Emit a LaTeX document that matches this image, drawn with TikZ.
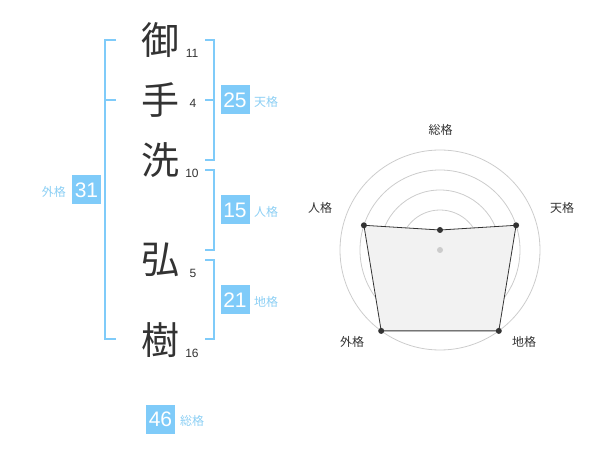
\documentclass[tikz,border=0pt]{standalone}
\usepackage{fontspec}
\usetikzlibrary{calc}
\setmainfont{Liberation Sans}
\newfontfamily\jp{Noto Sans CJK JP}
\definecolor{bluebox}{HTML}{7FCBF9}
\definecolor{bluetxt}{HTML}{8CCFF4}
\definecolor{ink}{HTML}{333333}
\definecolor{gridc}{HTML}{CCCCCC}
\definecolor{fillc}{HTML}{F2F2F2}
\begin{document}
\begin{tikzpicture}[x=1pt,y=-1pt,
  bigchar/.style={font=\jp\fontsize{38}{38}\selectfont,text=ink,inner sep=0pt},
  strokes/.style={font=\fontsize{12}{12}\selectfont,text=ink,inner sep=0pt},
  numbox/.style={fill=bluebox,text=white,minimum width=29pt,minimum height=29pt,inner sep=0pt,font=\fontsize{21}{21}\selectfont},
  kaku/.style={font=\jp\fontsize{12}{12}\selectfont,text=bluetxt,inner sep=0pt},
  brk/.style={draw=bluebox,line width=1.6pt},
  radlab/.style={font=\jp\fontsize{12}{12}\selectfont,text=ink,inner sep=0pt},
  ring/.style={draw=gridc,line width=0.8pt},
  dot/.style={circle,fill=ink,inner sep=0pt,minimum size=6pt}
]
\useasboundingbox (0,0) rectangle (600,470);
% characters
\node[bigchar] (c1) at (160,40) {御};
\node[bigchar] (c2) at (160,100) {手};
\node[bigchar] (c3) at (160,160) {洗};
\node[bigchar] (c4) at (160,260) {弘};
\node[bigchar] (c5) at (160,340) {樹};
\node[strokes] (s1) at (192,53) {11};
\node[strokes] (s2) at (193,103) {4};
\node[strokes] (s3) at (192,173) {10};
\node[strokes] (s4) at (193,273) {5};
\node[strokes] (s5) at (192,353) {16};
% left bracket
\draw[brk] (116,40) -- (105,40) -- (105,339) -- (116,339);
\draw[brk] (105,100) -- (116,100);
% right brackets
\draw[brk] (205,40) -- (214,40) -- (214,160) -- (205,160);
\draw[brk] (214,100) -- (205,100);
\draw[brk] (205,170) -- (214,170) -- (214,250) -- (205,250);
\draw[brk] (205,260) -- (214,260) -- (214,339) -- (205,339);
% boxes
\node[numbox] (b31) at (86.5,190) {31};
\node[kaku,anchor=east] (l31) at (66,192) {外格};
\node[numbox] (b25) at (235,100) {25};
\node[kaku,anchor=west] (l25) at (254,102) {天格};
\node[numbox] (b15) at (235,210) {15};
\node[kaku,anchor=west] (l15) at (254,212) {人格};
\node[numbox] (b21) at (235,300) {21};
\node[kaku,anchor=west] (l21) at (254,302) {地格};
\node[numbox] (b46) at (160.5,419) {46};
\node[kaku,anchor=west] (l46) at (180,421) {総格};
% radar
\coordinate (O) at (440,250);
\foreach \r in {20,40,60,80,100} \draw[ring] (O) circle[radius=\r];
\coordinate (p1) at ($(O)+(0,-20)$);
\coordinate (p2) at ($(O)+(76.1,-24.7)$);
\coordinate (p3) at ($(O)+(58.8,80.9)$);
\coordinate (p4) at ($(O)+(-58.8,80.9)$);
\coordinate (p5) at ($(O)+(-76.1,-24.7)$);
\draw[fill=fillc,draw=ink,line width=0.8pt] (p1) -- (p2) -- (p3) -- (p4) -- (p5) -- cycle;
\foreach \p in {p1,p2,p3,p4,p5} \node[dot] at (\p) {};
\node[circle,fill=gridc,inner sep=0pt,minimum size=6pt] (oc) at (O) {};
\node[radlab] (r1) at (440.5,130) {総格};
\node[radlab] (r2) at (562,208) {天格};
\node[radlab] (r3) at (320,208) {人格};
\node[radlab] (r4) at (352,342) {外格};
\node[radlab] (r5) at (524,342) {地格};
\end{tikzpicture}
\end{document}
